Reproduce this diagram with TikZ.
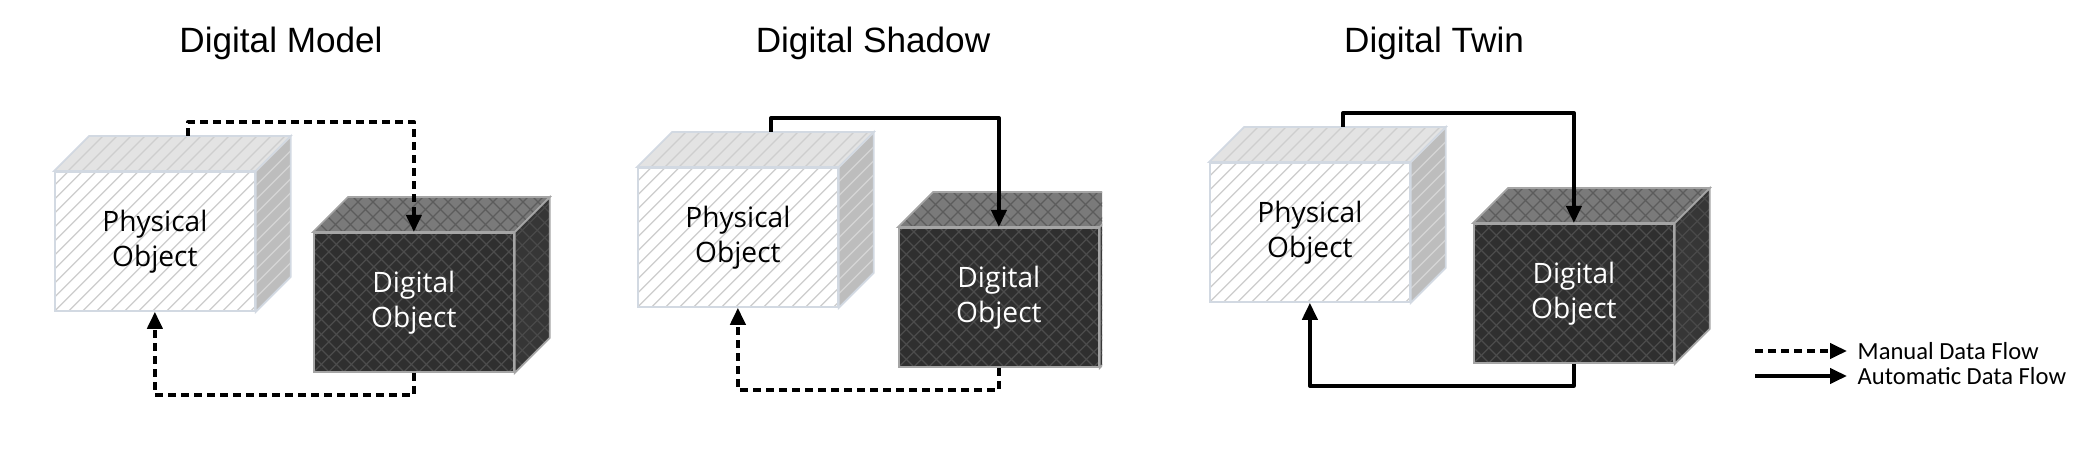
\documentclass[tikz,border=0pt]{standalone}
\usepackage{fontspec}
\usepackage{color}
\usepackage{tikz}
\usetikzlibrary{arrows.meta,calc,positioning}
\setmainfont{Liberation Sans}
\newfontfamily\boxfont{Open Sans}
\newfontfamily\legendfont{Carlito}

\definecolor{physfront}{RGB}{255,255,255}
\definecolor{physline}{RGB}{204,204,204}
\definecolor{phystop}{RGB}{227,227,227}
\definecolor{phystopline}{RGB}{206,206,206}
\definecolor{physside}{RGB}{189,189,189}
\definecolor{physsideline}{RGB}{214,214,214}
\definecolor{physedge}{RGB}{210,217,226}
\definecolor{digifront}{RGB}{47,47,47}
\definecolor{digiline}{RGB}{76,76,76}
\definecolor{digitop}{RGB}{122,122,122}
\definecolor{digitopline}{RGB}{92,92,92}
\definecolor{digiside}{RGB}{54,54,54}
\definecolor{digisideline}{RGB}{74,74,74}
\definecolor{digiedge}{RGB}{165,165,165}

\begin{document}
\begin{tikzpicture}[x=0.1mm, y=-0.1mm,
    hatch/.style={path picture={
      \foreach \k in {-16,...,18}
        \draw[#1, line width=0.35pt] ($(path picture bounding box.south west)+(\k*14,0)$) -- ++(260,-260);}},
    cross/.style={path picture={
      \foreach \k in {-16,...,32} {
        \draw[#1, line width=0.35pt] ($(path picture bounding box.south west)+(\k*15,0)$) -- ++(260,-260);
        \draw[#1, line width=0.35pt] ($(path picture bounding box.south west)+(\k*15,0)$) -- ++(-260,-260);}}},
    physbox/.style={rectangle, anchor=north west, minimum width=20mm, minimum height=13.9mm,
      fill=physfront, draw=physedge, line width=0.5pt, hatch=physline,
      align=center, font=\boxfont\fontsize{8}{10}\selectfont},
    digibox/.style={rectangle, anchor=north west, minimum width=20mm, minimum height=13.9mm,
      fill=digifront, draw=digiedge, line width=0.5pt, cross=digiline,
      align=center, text=white, font=\boxfont\fontsize{8}{10}\selectfont},
    title/.style={anchor=base, font=\fontsize{10}{12}\selectfont},
    legend/.style={anchor=west, inner xsep=1mm, inner ysep=0pt, font=\legendfont\fontsize{7}{8}\selectfont},
    manualflow/.style={-{Triangle[length=1.7mm,width=1.5mm]}, line width=1.1pt, dash pattern=on 0.8mm off 0.5mm, line join=round},
    autoflow/.style={-{Triangle[length=1.7mm,width=1.5mm]}, line width=1.1pt, line join=round}]
  \useasboundingbox (0,0) rectangle (2086,468);
  \foreach \i/\tx/\title/\px/\py/\dx/\dy/\cut/\up/\down in {
      1/281/Digital Model/54/171/313/232/2086/manualflow/manualflow,
      2/873/Digital Shadow/637/167/898/227/1102/autoflow/manualflow,
      3/1434/Digital Twin/1209/162/1473/223/2086/autoflow/autoflow} {
    % titles
    \node[title] (title\i) at (\tx,53) {\title};
    % physical object
    \node[physbox] (po\i) at (\px,\py) {Physical\\Object};
    \path[fill=phystop, draw=physedge, line width=0.5pt, hatch=phystopline]
      (po\i.north west) -- ++(35,-35) -- ($(po\i.north east)+(35,-35)$) -- (po\i.north east) -- cycle;
    \path[fill=physside, draw=physedge, line width=0.5pt, hatch=physsideline]
      (po\i.north east) -- ++(35,-35) -- ($(po\i.south east)+(35,-35)$) -- (po\i.south east) -- cycle;
    % digital object
    \begin{scope}
      \clip (0,0) rectangle (\cut,468);
      \node[digibox] (do\i) at (\dx,\dy) {Digital\\Object};
      \path[fill=digitop, draw=digiedge, line width=0.5pt, cross=digitopline]
        (do\i.north west) -- ++(35,-35) -- ($(do\i.north east)+(35,-35)$) -- (do\i.north east) -- cycle;
      \path[fill=digiside, draw=digiedge, line width=0.5pt, cross=digisideline]
        (do\i.north east) -- ++(35,-35) -- ($(do\i.south east)+(35,-35)$) -- (do\i.south east) -- cycle;
    \end{scope}
    % data flows
    \coordinate (up\i) at ($(po\i.north west)+(134,-35)$);
    \draw[\up] (up\i) -- ++(0,-14) -| (do\i.north);
    \draw[\down] (do\i.south) -- ++(0,22) -| (po\i.south);
  }
  % legend
  \coordinate (mstart) at (1755,351);
  \node[legend] (mlabel) at (1847,351) {Manual Data Flow};
  \draw[manualflow] (mstart) -- (mlabel.west);
  \coordinate (astart) at (1755,376);
  \node[legend] (alabel) at (1847,376) {Automatic Data Flow};
  \draw[autoflow] (astart) -- (alabel.west);
\end{tikzpicture}
\end{document}
